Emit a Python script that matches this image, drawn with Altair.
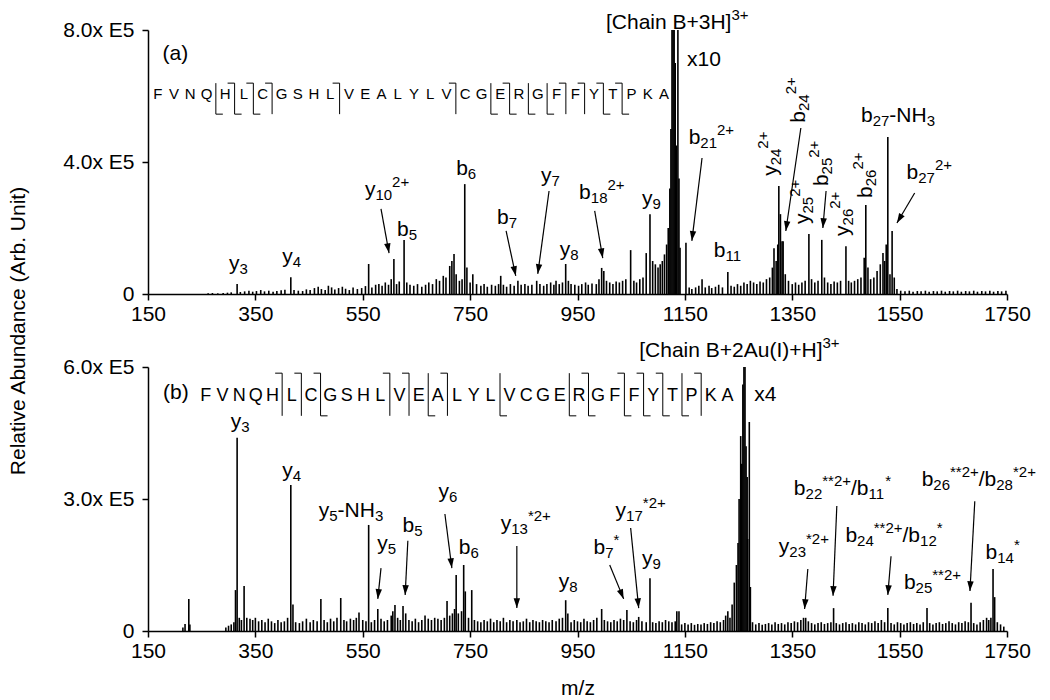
import math
import re
import altair as alt
import pandas as pd

# ---------------- data ----------------
# panel (a): peak m/z and abundance (in thousands)
peaks_a = [
    (262, 2), (270, 3), (280, 2), (290, 3), (298, 4), (305, 5), (316, 30), (322, 6), (330, 8), (338, 10),
    (345, 7), (352, 9), (360, 12), (367, 8), (375, 10), (383, 7), (390, 9), (398, 11), (405, 13), (416, 51),
    (422, 12), (430, 10), (438, 9), (445, 14), (452, 12), (460, 18), (467, 22), (473, 15), (480, 12), (486, 25),
    (492, 20), (498, 14), (505, 18), (512, 22), (518, 16), (525, 12), (532, 20), (540, 15), (548, 18), (555, 24),
    (561, 91), (567, 20), (574, 28), (580, 30), (586, 25), (592, 35), (598, 28), (603, 45), (608, 106), (613, 30),
    (618, 38), (627, 164), (632, 35), (638, 28), (645, 25), (652, 30), (660, 22), (667, 28), (673, 35), (680, 30),
    (687, 45), (693, 40), (700, 55), (705, 50), (712, 85), (716, 100), (720, 121), (724, 60), (730, 40), (735, 45),
    (740, 333), (744, 80), (750, 35), (755, 60), (762, 30), (770, 25), (776, 30), (782, 22), (790, 28), (797, 25),
    (803, 30), (807, 55), (812, 28), (818, 22), (825, 30), (832, 25), (839, 40), (845, 28), (852, 30), (858, 25),
    (865, 28), (874, 40), (880, 30), (887, 25), (893, 30), (900, 35), (906, 28), (910, 40), (916, 30), (922, 35),
    (928, 91), (933, 40), (938, 30), (945, 28), (952, 25), (958, 30), (965, 35), (970, 28), (977, 32), (985, 30),
    (990, 45), (995, 79), (999, 70), (1004, 40), (1010, 35), (1016, 30), (1022, 38), (1028, 35), (1034, 40), (1040, 45),
    (1049, 133), (1055, 40), (1060, 35), (1066, 45), (1072, 50), (1078, 124), (1085, 242), (1090, 100), (1095, 90),
    (1100, 80), (1104, 90), (1108, 100), (1112, 120), (1116, 150), (1119, 200), (1122, 320), (1124, 500),
    (1126, 1200), (1128, 900), (1130, 1200), (1132, 700), (1134, 450), (1137, 1200), (1139, 350), (1141, 140),
    (1152, 155), (1158, 20), (1163, 15), (1170, 20), (1176, 25), (1182, 45), (1188, 20), (1195, 25), (1200, 18),
    (1207, 22), (1213, 28), (1220, 20), (1230, 67), (1236, 25), (1242, 22), (1248, 30), (1254, 25), (1260, 35),
    (1266, 30), (1272, 40), (1278, 35), (1284, 30), (1290, 38), (1296, 35), (1302, 45), (1308, 50), (1313, 80),
    (1316, 139), (1320, 100), (1323, 150), (1325, 327), (1328, 242), (1331, 160), (1333, 160), (1337, 60),
    (1343, 40), (1350, 30), (1356, 35), (1362, 28), (1368, 35), (1374, 40), (1381, 182), (1386, 45), (1392, 35),
    (1398, 40), (1405, 164), (1410, 50), (1416, 35), (1422, 30), (1428, 38), (1434, 35), (1440, 40), (1450, 145),
    (1455, 40), (1460, 35), (1466, 40), (1472, 45), (1478, 50), (1484, 110), (1487, 270), (1491, 80), (1496, 45),
    (1502, 50), (1508, 70), (1514, 90), (1519, 124), (1522, 100), (1525, 150), (1528, 476), (1532, 60), (1536, 191),
    (1540, 50), (1545, 15), (1552, 10), (1560, 8), (1568, 10), (1575, 7), (1583, 9), (1590, 8), (1598, 10),
    (1605, 7), (1613, 9), (1620, 8), (1628, 10), (1635, 7), (1643, 9), (1650, 8), (1658, 10), (1665, 7), (1673, 9),
    (1680, 8), (1688, 10), (1695, 7), (1703, 9), (1710, 8), (1718, 10), (1725, 7), (1733, 9), (1740, 8), (1748, 10),
]

# panel (b): peak m/z and abundance (in thousands)
peaks_b = [
    (215, 8), (219, 16), (226, 73), (228, 15),
    (295, 8), (300, 12), (305, 15), (310, 20), (313, 93), (316, 439), (320, 30), (324, 25), (329, 102), (334, 30),
    (340, 28), (345, 25), (350, 30), (356, 22), (362, 25), (368, 20), (374, 28), (380, 22), (386, 18), (392, 25),
    (398, 20), (404, 22), (410, 30), (416, 332), (420, 60), (425, 20), (432, 18), (438, 22), (445, 28), (452, 20),
    (458, 25), (465, 22), (472, 73), (478, 25), (484, 20), (490, 28), (496, 22), (502, 30), (509, 75), (515, 25),
    (520, 22), (527, 28), (533, 25), (538, 30), (543, 42), (550, 25), (556, 22), (561, 241), (566, 20), (572, 25),
    (578, 50), (584, 28), (590, 22), (596, 25), (603, 35), (606, 45), (610, 59), (615, 30), (620, 25), (625, 57),
    (630, 40), (636, 25), (642, 22), (648, 28), (654, 20), (660, 25), (666, 35), (672, 28), (678, 25), (684, 30),
    (690, 28), (696, 25), (702, 30), (707, 68), (712, 35), (717, 40), (721, 50), (724, 127), (728, 40), (734, 45),
    (738, 150), (741, 90), (747, 30), (753, 93), (758, 25), (764, 22), (770, 20), (776, 25), (782, 22), (788, 28),
    (794, 20), (800, 25), (806, 22), (812, 30), (818, 20), (824, 25), (830, 22), (837, 25), (843, 20), (849, 22),
    (855, 28), (861, 20), (867, 25), (873, 22), (879, 20), (885, 25), (891, 22), (897, 20), (903, 25), (910, 22),
    (916, 28), (922, 30), (928, 70), (932, 40), (938, 20), (944, 25), (950, 22), (956, 20), (962, 28), (968, 22),
    (974, 20), (980, 25), (986, 30), (995, 50), (1000, 25), (1006, 22), (1012, 20), (1018, 25), (1024, 22),
    (1030, 28), (1036, 25), (1042, 48), (1048, 22), (1054, 20), (1060, 25), (1064, 32), (1070, 22), (1078, 20),
    (1085, 120), (1090, 20), (1096, 18), (1102, 22), (1108, 20), (1114, 25), (1120, 22), (1126, 20), (1132, 22),
    (1135, 45), (1139, 45), (1144, 15), (1150, 18), (1156, 15), (1162, 18), (1168, 14), (1174, 16), (1180, 15),
    (1186, 18), (1192, 16), (1198, 20), (1204, 18), (1210, 22), (1216, 20), (1222, 25), (1226, 35), (1230, 45),
    (1234, 30), (1238, 60), (1242, 110), (1246, 150), (1249, 200), (1251, 300), (1254, 443), (1256, 380),
    (1258, 560), (1260, 700), (1262, 630), (1264, 420), (1266, 350), (1267, 209), (1270, 475), (1272, 100),
    (1276, 20), (1282, 15), (1288, 18), (1294, 14), (1300, 16), (1306, 18), (1312, 15), (1318, 20), (1324, 16),
    (1330, 18), (1336, 15), (1342, 20), (1348, 18), (1354, 22), (1360, 20), (1366, 25), (1371, 30), (1375, 30),
    (1380, 22), (1386, 18), (1392, 15), (1398, 18), (1404, 20), (1410, 16), (1416, 18), (1422, 20), (1427, 52),
    (1432, 18), (1438, 15), (1444, 18), (1450, 20), (1456, 16), (1462, 18), (1468, 15), (1474, 20), (1480, 18),
    (1486, 15), (1492, 20), (1498, 18), (1504, 22), (1510, 18), (1516, 25), (1522, 20), (1528, 52), (1534, 18),
    (1540, 15), (1546, 20), (1552, 18), (1558, 15), (1564, 18), (1570, 20), (1576, 16), (1582, 18), (1588, 15),
    (1594, 20), (1601, 52), (1606, 18), (1612, 15), (1618, 18), (1624, 20), (1630, 16), (1636, 18), (1642, 22),
    (1648, 18), (1654, 15), (1660, 20), (1666, 18), (1672, 22), (1678, 20), (1683, 64), (1688, 18), (1694, 15),
    (1700, 20), (1706, 25), (1712, 30), (1716, 25), (1720, 30), (1724, 141), (1727, 77), (1732, 20), (1738, 15),
    (1744, 10),
]

SEQ = "FVNQHLCGSHLVEALYLVCGERGFFYTPKA"
b_ions_a = [5, 6, 7, 11, 18, 21, 24, 25, 26, 27]
y_ions_a = [3, 4, 7, 8, 9, 10, 24, 25, 26]
b_ions_b = [5, 6, 7, 11, 12, 14, 22, 24, 25, 26, 28]
y_ions_b = [3, 4, 5, 6, 8, 9, 13, 17, 23]

# annotation labels: (markup, m/z, abundance, rotated)
labels_a = [
    ("(a)", 177, 709, False), ("[Chain B+3H]^{3+}", 1003, 803, False), ("x10", 1154, 690, False),
    ("y_{3}", 301, 73, False), ("y_{4}", 400, 94, False), ("y_{10}^{2+}", 554, 297, False),
    ("b_{5}", 614, 177, False), ("b_{6}", 724, 361, False), ("b_{7}", 800, 212, False),
    ("y_{7}", 882, 339, False), ("y_{8}", 917, 114, False), ("b_{18}^{2+}", 953, 288, False),
    ("y_{9}", 1070, 270, False), ("b_{21}^{2+}", 1157, 455, False), ("b_{11}", 1204, 111, False),
    ("y_{24}^{2+}", 1322, 358, True), ("b_{24}^{2+}", 1374, 519, True), ("y_{25}^{2+}", 1381, 212, True),
    ("b_{25}^{2+}", 1417, 327, True), ("y_{26}^{2+}", 1456, 176, True), ("b_{26}^{2+}", 1498, 291, True),
    ("b_{27}-NH_{3}", 1478, 521, False), ("b_{27}^{2+}", 1563, 348, False),
]
labels_b = [
    ("(b)", 178, 527, False), ("[Chain B+2Au(I)+H]^{3+}", 1065, 623, False), ("x4", 1279, 522, False),
    ("y_{3}", 304, 461, False), ("y_{4}", 400, 351, False), ("y_{5}-NH_{3}", 468, 260, False),
    ("y_{5}", 577, 185, False), ("b_{5}", 624, 224, False), ("y_{6}", 691, 302, False),
    ("b_{6}", 729, 175, False), ("y_{13}^{*2+}", 807, 230, False), ("y_{8}", 915, 98, False),
    ("b_{7}^{*}", 980, 175, False), ("y_{17}^{*2+}", 1021, 260, False), ("y_{9}", 1070, 151, False),
    ("y_{23}^{*2+}", 1325, 177, False), ("b_{22}^{**2+}/b_{11}^{*}", 1353, 308, False),
    ("b_{24}^{**2+}/b_{12}^{*}", 1449, 202, False), ("b_{25}^{**2+}", 1558, 95, False),
    ("b_{26}^{**2+}/b_{28}^{*2+}", 1591, 330, False), ("b_{14}^{*}", 1710, 164, False),
]

# arrows: (from m/z, from abundance, to m/z, to abundance)
arrows_a = [
    (584, 258, 599, 124), (817, 191, 835, 55), (897, 312, 876, 61), (982, 252, 997, 109),
    (1182, 412, 1163, 161), (1366, 503, 1338, 191), (1413, 312, 1407, 200), (1578, 306, 1545, 215),
]
arrows_b = [
    (584, 143, 578, 73), (634, 205, 629, 82), (703, 266, 716, 143), (837, 193, 837, 52),
    (1010, 150, 1036, 73), (1049, 234, 1064, 52), (1379, 141, 1373, 50), (1433, 284, 1426, 80),
    (1534, 170, 1528, 82), (1690, 295, 1681, 91),
]

x_ticks = [150, 350, 550, 750, 950, 1150, 1350, 1550, 1750]
y_ticks_a = [0, 400, 800]
y_ticks_b = [0, 300, 600]

# ---------------- layout / style ----------------
FONT = "Liberation Sans"
W_PX, H_PX = 859, 264
XDOM = [150, 1750]
PXX = W_PX / (XDOM[1] - XDOM[0])
BASE_FS, SMALL_FS = 21, 15

AW = {'[': 278, ']': 278, '(': 333, ')': 333, 'C': 722, 'h': 556, 'a': 556, 'i': 222, 'n': 556,
      ' ': 278, 'B': 667, '+': 584, 'H': 722, 'A': 667, 'u': 556, 'I': 278, 'x': 500, 'y': 500,
      'b': 556, '-': 333, 'N': 722, '*': 389, '/': 278}
TOK = re.compile(r"_\{([^}]*)\}|\^\{([^}]*)\}|([^_^]+)")


def tw(s, fs):
    return sum(AW.get(c, 556) for c in s) / 1000.0 * fs


def label_rows(markup, ax, ay, rot, pxy):
    rows, off = [], 0.0
    for m in TOK.finditer(markup):
        sub, sup, plain = m.groups()
        if plain is not None:
            txt, fs, shift = plain, BASE_FS, 0
        elif sub is not None:
            txt, fs, shift = sub, SMALL_FS, 4
        else:
            txt, fs, shift = sup, SMALL_FS, -9
        if rot:
            x, y = ax + shift / PXX, ay + off / pxy
        else:
            x, y = ax + off / PXX, ay - shift / pxy
        rows.append(dict(x=x, y=y, t=txt, s=fs, a=270 if rot else 0))
        off += tw(txt, fs)
    return rows


def panel(peaks, ymax, yticks, labels, arrows, b_ions, y_ions, seq_start, seq_step, seq_fs,
          seq_base, seq_top, seq_bot, xtitle, extra=None):
    pxy = H_PX / ymax
    X = alt.X("x:Q", scale=alt.Scale(domain=XDOM, nice=False, zero=False),
              axis=alt.Axis(values=x_ticks, format="d", title=xtitle, labelFlush=False,
                            labelOverlap=False, titlePadding=16))
    Y = alt.Y("y:Q", scale=alt.Scale(domain=[0, ymax], nice=False),
              axis=alt.Axis(values=yticks, title=None, labelFlush=False, labelOverlap=False,
                            labelExpr="datum.value == 0 ? '0' : format(datum.value / 100, '.1f') + 'x E5'"))

    pk = pd.DataFrame(peaks, columns=["x", "y"])
    pk["y2"] = 0
    sticks = alt.Chart(pk).mark_rule(color="black", strokeWidth=1.6, clip=True).encode(
        x=X, y=Y, y2=alt.Y2("y2"))

    rows = []
    for mk, lx, ly, rot in labels:
        rows += label_rows(mk, lx, ly, rot, pxy)
    texts = alt.Chart(pd.DataFrame(rows)).mark_text(
        align="left", baseline="alphabetic", font=FONT, color="black").encode(
        x=X, y=Y, text="t:N", size=alt.Size("s:Q", scale=None), angle=alt.Angle("a:Q", scale=None))

    ar = pd.DataFrame(arrows, columns=["x", "y", "x2", "y2"])
    lines = alt.Chart(ar).mark_rule(color="black", strokeWidth=1.2).encode(
        x=X, y=Y, x2=alt.X2("x2"), y2=alt.Y2("y2"))
    heads = []
    for x1, y1, x2, y2 in arrows:
        dxp = (x2 - x1) * PXX
        dyp = -(y2 - y1) * pxy
        ang = math.degrees(math.atan2(-dxp, dyp)) % 360
        heads.append(dict(x=x2, y=y2, ang=ang))
    hd = alt.Chart(pd.DataFrame(heads)).mark_point(
        shape="M0,0L-0.33,-1L0.33,-1Z", filled=True, color="black", opacity=1, size=380,
        strokeWidth=0).encode(x=X, y=Y, angle=alt.Angle("ang:Q", scale=None))

    # peptide sequence with fragmentation brackets
    sites = sorted(set(b_ions) | set(30 - n for n in y_ions))
    gap = 2.5 / PXX
    xs, cx = [], seq_start
    for i, ch in enumerate(SEQ):
        xs.append(cx)
        cx += seq_step + (gap if (i + 1) in sites else 0)
    letters = alt.Chart(pd.DataFrame({"x": xs, "y": [seq_base] * len(SEQ), "t": list(SEQ)})).mark_text(
        align="center", baseline="alphabetic", font=FONT, fontSize=seq_fs, color="black").encode(
        x=X, y=Y, text="t:N")
    hook = 7 / PXX
    br = []
    for k in sites:
        sx = (xs[k - 1] + xs[k]) / 2
        br.append(dict(x=sx, y=seq_top, x2=sx, y2=seq_bot))
        if k in b_ions:
            br.append(dict(x=sx - hook, y=seq_top, x2=sx, y2=seq_top))
        if (30 - k) in y_ions:
            br.append(dict(x=sx, y=seq_bot, x2=sx + hook, y2=seq_bot))
    brackets = alt.Chart(pd.DataFrame(br)).mark_rule(color="black", strokeWidth=1).encode(
        x=X, y=Y, x2=alt.X2("x2"), y2=alt.Y2("y2"))

    layers = [sticks, lines, hd, texts, letters, brackets]
    if extra is not None:
        layers.append(extra)
    return alt.layer(*layers).properties(width=W_PX, height=H_PX)


ytitle = alt.Chart(pd.DataFrame({"t": ["Relative Abundance (Arb. Unit)"]})).mark_text(
    angle=270, align="center", baseline="middle", font=FONT, fontSize=21, color="black").encode(
    text="t:N", x=alt.value(-129), y=alt.value(301))

top = panel(peaks_a, 800, y_ticks_a, labels_a, arrows_a, b_ions_a, y_ions_a,
            168.1, 30.27, 15, 590, 639, 545, None, extra=ytitle)
bottom = panel(peaks_b, 600, y_ticks_b, labels_b, arrows_b, b_ions_b, y_ions_b,
               257.6, 31.1, 18, 523, 586, 489, "m/z")

chart = alt.vconcat(top, bottom, spacing=73, bounds="flush").properties(
    padding={"left": 0, "top": 0, "right": 0, "bottom": 0}, background="white"
).configure_view(stroke=None).configure_axis(
    domainColor="black", domainWidth=1.5, tickColor="black", tickWidth=1.5, tickSize=6,
    labelFont=FONT, labelFontSize=21, labelColor="black", titleFont=FONT, titleFontSize=21,
    titleFontWeight="normal", titleColor="black", grid=False
).configure_axisX(labelPadding=3).configure_axisY(labelPadding=8)

chart.save("out.html", embed_options={"renderer": "svg", "actions": False})
